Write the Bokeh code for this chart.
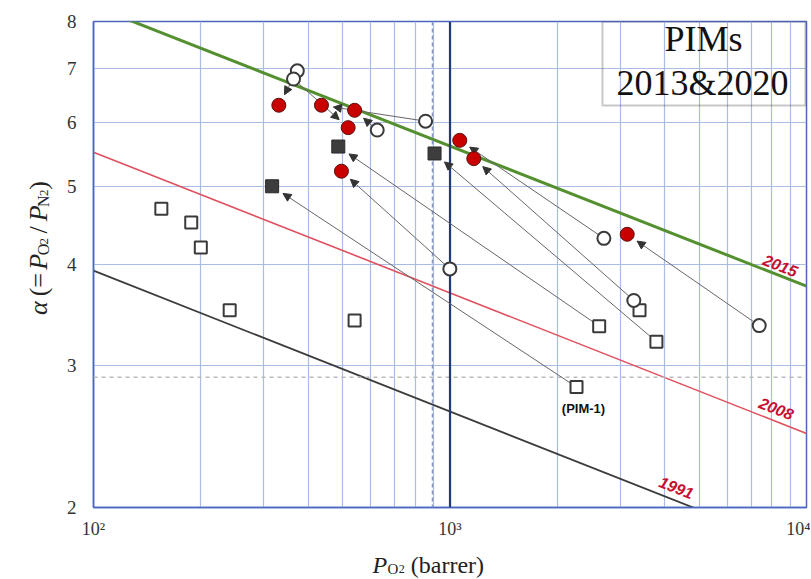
import math
from bokeh.plotting import figure
from bokeh.layouts import column, row
from bokeh.models import (FixedTicker, Span, Label, Arrow, NormalHead,
                          ColumnDataSource, BoxAnnotation, Range1d)
from bokeh.embed import file_html
from bokeh.resources import INLINE

# ---------------- data ----------------
bound_x = [100, 10000]
bound_1991 = [3.93, 1.76]
bound_2008 = [5.51, 2.47]
bound_2015 = [8.36, 3.76]

open_sq_x = [155, 188, 200, 241, 540, 2264, 2621, 3401, 3793]
open_sq_y = [4.69, 4.51, 4.20, 3.51, 3.41, 2.82, 3.355, 3.51, 3.21]

open_circ_x = [373, 364, 625, 854, 999, 2702, 3278, 7369]
open_circ_y = [6.95, 6.79, 5.87, 6.02, 3.95, 4.31, 3.61, 3.36]

fill_sq_x = [317, 486, 905]
fill_sq_y = [5.00, 5.60, 5.49]

red_x = [331, 436, 540, 518, 496, 1065, 1166, 3141]
red_y = [6.30, 6.30, 6.21, 5.91, 5.22, 5.70, 5.41, 4.36]

# arrows: (index of old point, index of new point)
circ_to_red = [(0, 0), (1, 3), (3, 1), (2, 2), (4, 4), (5, 5), (6, 6), (7, 7)]
sq_to_fillsq = [(5, 0), (6, 1), (8, 2)]

x_ticks = [100, 1000, 10000]
x_tick_labels = ["10²", "10³", "10⁴"]
x_minor = [200, 300, 400, 500, 600, 700, 800, 900,
           2000, 3000, 4000, 5000, 6000, 7000, 8000, 9000]
y_ticks = [2, 3, 4, 5, 6, 7, 8]
y_tick_labels = ["2", "3", "4", "5", "6", "7", "8"]

ref_x_dash = 893
ref_y_dash = 2.90
ref_x_solid = 1000

# ---------------- layout ----------------
TOTAL_W, TOTAL_H = 810, 578
YT_W = 60                     # width of the strip holding the y title
XT_H = 33                     # height of the strip holding the x title
W, H = TOTAL_W - YT_W, TOTAL_H - XT_H
BL, BR, BT, BB = 93 - YT_W, 4, 21, 38
FW = W - BL - BR
FH = H - BT - BB
FRAME_LEFT = YT_W + BL        # page pixel of the frame's left edge
FRAME_TOP = BT
XMIN, XMAX = 100, 10000
YMIN, YMAX = 2, 8
LX0, LX1 = math.log10(XMIN), math.log10(XMAX)
LY0, LY1 = math.log10(YMIN), math.log10(YMAX)
KX = FW / (LX1 - LX0)
KY = FH / (LY1 - LY0)


def px2x(px):  # page pixel -> data
    return 10 ** (LX0 + (px - FRAME_LEFT) / KX)


def py2y(py):
    return 10 ** (LY0 + (FRAME_TOP + FH - py) / KY)


def shorten(x0, y0, x1, y1, d):
    lx0, ly0, lx1, ly1 = map(math.log10, (x0, y0, x1, y1))
    dx, dy = (lx1 - lx0) * KX, (ly1 - ly0) * KY
    L = math.hypot(dx, dy)
    f = (L - d) / L
    return 10 ** (lx0 + (lx1 - lx0) * f), 10 ** (ly0 + (ly1 - ly0) * f)


SERIF = "Liberation Serif"
SANS = "Liberation Sans"
GRID = "#aabbe6"
AXIS = "#4a66c0"

p = figure(width=W, height=H, x_axis_type="log", y_axis_type="log",
           x_range=(XMIN, XMAX), y_range=(YMIN, YMAX),
           output_backend="svg", toolbar_location=None,
           min_border_left=BL, min_border_right=BR,
           min_border_top=BT, min_border_bottom=BB)
p.background_fill_color = "white"
p.border_fill_color = "white"
p.outline_line_color = AXIS
p.outline_line_width = 1.5

p.xaxis.ticker = FixedTicker(ticks=x_ticks, minor_ticks=x_minor)
p.yaxis.ticker = FixedTicker(ticks=y_ticks, minor_ticks=[])
p.xaxis.major_label_overrides = {float(t): l for t, l in zip(x_ticks, x_tick_labels)}
p.yaxis.major_label_overrides = {float(t): l for t, l in zip(y_ticks, y_tick_labels)}
for ax in (p.xaxis, p.yaxis):
    ax.axis_line_color = AXIS
    ax.axis_line_width = 1.5
    ax.major_tick_line_color = None
    ax.minor_tick_line_color = None
    ax.major_tick_out = 0
    ax.major_tick_in = 0
    ax.minor_tick_out = 0
    ax.minor_tick_in = 0
    ax.major_label_text_font = SERIF
    ax.major_label_text_color = "#333333"
p.xaxis.major_label_text_font_size = "18px"
p.yaxis.major_label_text_font_size = "19px"
p.xaxis.major_label_standoff = 11
p.yaxis.major_label_standoff = 17

p.xgrid.grid_line_color = GRID
p.xgrid.minor_grid_line_color = GRID
p.xgrid.grid_line_width = 1.2
p.xgrid.minor_grid_line_width = 1.2
p.ygrid.grid_line_color = GRID
p.ygrid.grid_line_width = 1.2

p.add_layout(Span(location=ref_x_dash, dimension="height", line_color="#8896bb",
                  line_width=1.5, line_dash="4 3"))
p.add_layout(Span(location=ref_y_dash, dimension="width", line_color="#bbbbbb",
                  line_width=1.5, line_dash="4 4"))
p.add_layout(Span(location=ref_x_solid, dimension="height", line_color="#22397a",
                  line_width=2.2))

# upper bounds
p.line(bound_x, bound_1991, line_color="#3c3c3c", line_width=1.8)
p.line(bound_x, bound_2008, line_color="#e0505e", line_width=1.6)
p.line(bound_x, bound_2015, line_color="#559030", line_width=3)

# arrows
xs0, ys0, xs1, ys1 = [], [], [], []
for a, b in circ_to_red:
    xs0.append(open_circ_x[a]); ys0.append(open_circ_y[a])
    ex, ey = shorten(open_circ_x[a], open_circ_y[a], red_x[b], red_y[b], 12)
    xs1.append(ex); ys1.append(ey)
for a, b in sq_to_fillsq:
    xs0.append(open_sq_x[a]); ys0.append(open_sq_y[a])
    ex, ey = shorten(open_sq_x[a], open_sq_y[a], fill_sq_x[b], fill_sq_y[b], 13)
    xs1.append(ex); ys1.append(ey)
asrc = ColumnDataSource(dict(x0=xs0, y0=ys0, x1=xs1, y1=ys1))
p.add_layout(Arrow(source=asrc, x_start="x0", y_start="y0", x_end="x1", y_end="y1",
                   line_color="#666666", line_width=1,
                   end=NormalHead(size=8, fill_color="#333333", line_color="#333333",
                                  line_width=1)))

# markers
r1 = p.scatter(open_sq_x, open_sq_y, marker="square", size=12, fill_color="white",
               line_color="#3a3a3a", line_width=2)
r2 = p.scatter(open_circ_x, open_circ_y, marker="circle", size=13, fill_color="white",
               line_color="#3a3a3a", line_width=2)
r3 = p.scatter(fill_sq_x, fill_sq_y, marker="square", size=13, fill_color="#3d3d3d",
               line_color="#2a2a2a", line_width=1)
r4 = p.scatter(red_x, red_y, marker="circle", size=14, fill_color="#c80000",
               line_color="#5a1010", line_width=1)
for r in (r1, r2, r3, r4):
    r.level = "overlay"

# bound labels
ang = -0.375
for txt, px, py in (("2015", 780, 265), ("2008", 776, 408), ("1991", 676, 487)):
    p.add_layout(Label(x=px2x(px), y=py2y(py), text=txt, angle=ang,
                       text_align="center", text_baseline="middle",
                       text_font=SANS, text_font_size="16px",
                       text_font_style="bold italic", text_color="#c8102e"))

p.add_layout(Label(x=px2x(583), y=py2y(408), text="(PIM-1)", text_align="center",
                   text_baseline="middle", text_font=SANS, text_font_size="13px",
                   text_font_style="bold", text_color="#111111"))

# PIMs box
p.add_layout(BoxAnnotation(left=px2x(602), right=px2x(805), top=YMAX, bottom=py2y(105),
                           fill_color=None, line_color="#444444", line_width=2))
p.add_layout(Label(x=px2x(703), y=py2y(38), text="PIMs", text_align="center",
                   text_baseline="middle", text_font=SERIF, text_font_size="36px",
                   text_color="#111111"))
p.add_layout(Label(x=px2x(702), y=py2y(82), text="2013&2020", text_align="center",
                   text_baseline="middle", text_font=SERIF, text_font_size="36px",
                   text_color="#111111"))


def strip(width, height, top):
    """A text-only strip whose data units are page pixels (y downwards)."""
    f = figure(width=width, height=height, x_axis_type=None, y_axis_type=None,
               x_range=Range1d(0, width), y_range=Range1d(top + height, top),
               output_backend="svg", toolbar_location=None,
               min_border=0, min_border_left=0, min_border_right=0,
               min_border_top=0, min_border_bottom=0)
    f.outline_line_color = None
    f.background_fill_color = "white"
    f.border_fill_color = "white"
    return f


# segments: (text, font px, style, subscript shift px, advance in em incl. gap)
# y title strip: α (= P_O2 / P_N2), rotated
ystrip = strip(YT_W, H, 0)
yt = [("α", 26, "italic", 0, 0.55 + 0.25), ("(=", 26, "normal", 0, 0.897 + 0.25),
      ("P", 26, "italic", 0, 0.62), ("O", 16, "normal", 5, 0.76),
      ("2", 13, "normal", 5, 0.5 + 0.45), ("/", 26, "normal", 0, 0.278 + 0.25),
      ("P", 26, "italic", 0, 0.62), ("N", 16, "normal", 5, 0.76),
      ("2", 13, "normal", 5, 0.55), (")", 26, "normal", 0, 0.333)]
cy = 329
for t, s, st, dx, adv in yt:
    ystrip.add_layout(Label(x=38 + dx, y=cy, text=t, angle=math.pi / 2,
                            text_align="left", text_baseline="alphabetic",
                            text_font=SERIF, text_font_size=f"{s}px",
                            text_font_style=st, text_color="#222222"))
    cy -= adv * s

# x title strip: P_O2 (barrer)
xstrip = strip(TOTAL_W, XT_H, H)
xt = [("P", 24, "italic", 0, 0.62), ("O", 15, "normal", 4, 0.76),
      ("2", 12, "normal", 4, 0.5 + 0.5), ("(barrer)", 24, "normal", 0, 3.05)]
cx = 372
for t, s, st, dy, adv in xt:
    xstrip.add_layout(Label(x=cx, y=564 + dy, text=t, text_align="left",
                            text_baseline="alphabetic", text_font=SERIF,
                            text_font_size=f"{s}px", text_font_style=st,
                            text_color="#222222"))
    cx += adv * s

layout = column(row(ystrip, p, spacing=0), xstrip, spacing=0)
open("out.html", "w").write(file_html(layout, INLINE))
